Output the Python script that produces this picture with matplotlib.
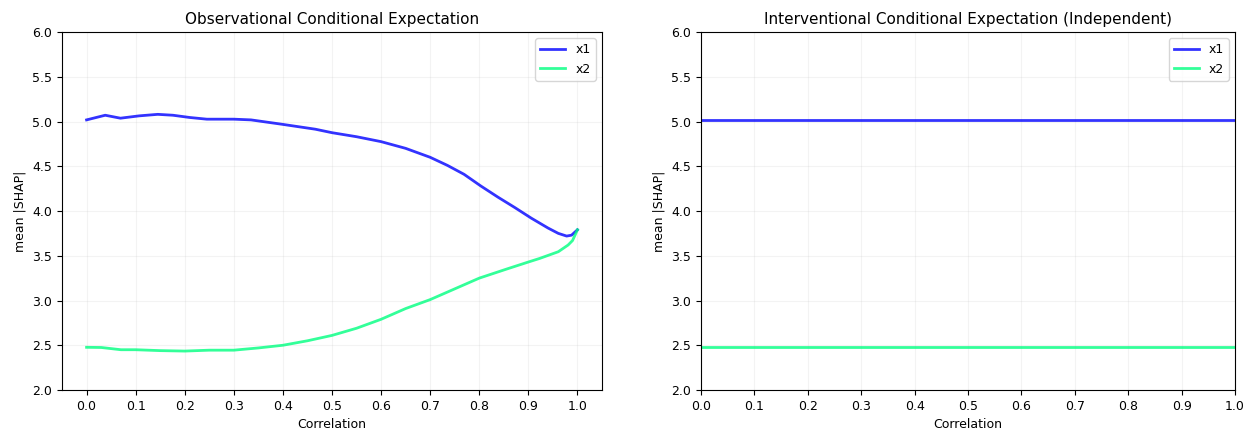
import matplotlib
matplotlib.use("Agg")
import matplotlib.pyplot as plt
import numpy as np

# observational conditional expectation
corr = [0.0, 0.038, 0.069, 0.107, 0.145, 0.176, 0.21, 0.245, 0.30, 0.335, 0.397, 0.466,
        0.50, 0.55, 0.60, 0.65, 0.70, 0.735, 0.769, 0.803, 0.838, 0.872, 0.906, 0.94,
        0.961, 0.978, 0.988, 1.0]
obs_x1 = [5.018, 5.07, 5.037, 5.063, 5.08, 5.07, 5.045, 5.026, 5.026, 5.018, 4.97, 4.914,
          4.875, 4.83, 4.775, 4.70, 4.60, 4.51, 4.41, 4.28, 4.155, 4.04, 3.92, 3.81,
          3.75, 3.72, 3.73, 3.79]
obs_x2_corr = [0.0, 0.03, 0.07, 0.10, 0.15, 0.20, 0.25, 0.30, 0.35, 0.40, 0.45, 0.50,
               0.55, 0.60, 0.65, 0.70, 0.75, 0.80, 0.855, 0.90, 0.923, 0.961, 0.981,
               0.99, 1.0]
obs_x2 = [2.477, 2.475, 2.45, 2.45, 2.44, 2.435, 2.445, 2.445, 2.47, 2.50, 2.55, 2.61,
          2.69, 2.79, 2.91, 3.01, 3.13, 3.25, 3.35, 3.43, 3.47, 3.545, 3.62, 3.67, 3.79]

# interventional (independent) - flat
int_corr = [0.0, 1.0]
int_x1 = [5.02, 5.02]
int_x2 = [2.475, 2.475]

c1 = plt.cm.winter(0.0)
c2 = plt.cm.winter(1.0)

fig = plt.figure(figsize=(12.43, 4.29), dpi=100)
ax1 = fig.add_axes([0.0499, 0.0909, 0.4344, 0.8345])
ax2 = fig.add_axes([0.564, 0.0909, 0.4296, 0.8345])

ax1.plot(corr, obs_x1, color=c1, lw=2, alpha=0.8, label="x1")
ax1.plot(obs_x2_corr, obs_x2, color=c2, lw=2, alpha=0.8, label="x2")
ax1.set_xticks(np.arange(0, 1.01, 0.1))
ax1.set_title("Observational Conditional Expectation", fontsize=11)

ax2.plot(int_corr, int_x1, color=c1, lw=2, alpha=0.8, label="x1")
ax2.plot(int_corr, int_x2, color=c2, lw=2, alpha=0.8, label="x2")
ax2.set_xlim(0, 1)
ax2.set_xticks(np.arange(0, 1.01, 0.1))
ax2.set_title("Interventional Conditional Expectation (Independent)", fontsize=11)

for ax in (ax1, ax2):
    ax.set_ylim(2, 6)
    ax.set_yticks(np.arange(2, 6.01, 0.5))
    ax.grid(True, alpha=0.15, lw=0.8)
    ax.set_xlabel("Correlation", fontsize=9)
    ax.set_ylabel("mean |SHAP|", fontsize=9)
    ax.tick_params(labelsize=9)
    ax.legend(loc="upper right", fontsize=9)

fig.savefig("out.png", dpi=100)
